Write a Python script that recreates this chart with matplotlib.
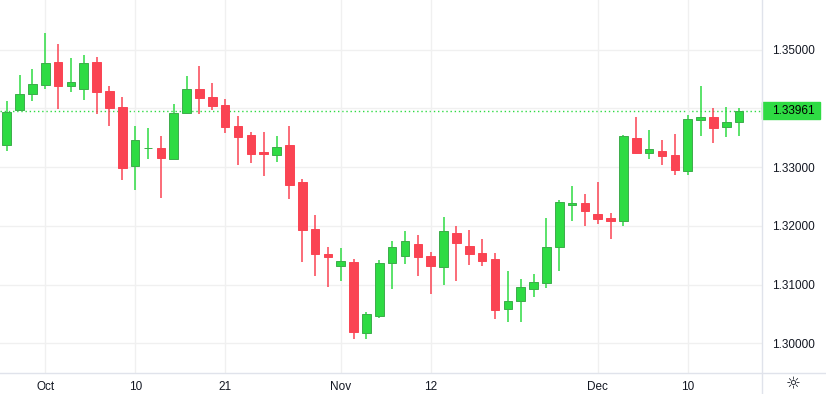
import matplotlib
matplotlib.use("Agg")
import matplotlib.pyplot as plt
from matplotlib.patches import FancyBboxPatch
from matplotlib.lines import Line2D
import numpy as np
import pandas as pd

# daily candles, forex (weekdays only)
dates = pd.bdate_range("2025-09-26", "2025-12-16")

opens = [1.33381, 1.33976, 1.34248, 1.34401, 1.34787, 1.34384, 1.34333, 1.34787, 1.34294, 1.34022,
         1.33024, 1.33318, 1.33325, 1.33143, 1.33915, 1.34328, 1.34192, 1.34056, 1.33699, 1.33546,
         1.33257, 1.33201, 1.33376, 1.32747, 1.31947, 1.31522, 1.31323, 1.31386, 1.30173, 1.30473,
         1.31364, 1.31493, 1.31692, 1.31488, 1.31296, 1.31879, 1.31658, 1.31539, 1.31437, 1.30582,
         1.30718, 1.30922, 1.31024, 1.31646, 1.32360, 1.32384, 1.32202, 1.32134, 1.32088, 1.33495,
         1.33245, 1.33274, 1.33206, 1.32939, 1.33806, 1.33852, 1.33687, 1.33772]
highs = [1.34129, 1.34566, 1.34668, 1.35281, 1.35094, 1.34861, 1.34912, 1.34878, 1.34384, 1.34192,
         1.33699, 1.33665, 1.33529, 1.34073, 1.34549, 1.34719, 1.34430, 1.34158, 1.33869, 1.33597,
         1.33597, 1.33529, 1.33699, 1.32793, 1.32185, 1.31641, 1.31629, 1.31437, 1.30536, 1.31420,
         1.31743, 1.31913, 1.31845, 1.31556, 1.32151, 1.31998, 1.31930, 1.31777, 1.31539, 1.31238,
         1.31097, 1.31182, 1.32134, 1.32440, 1.32679, 1.32543, 1.32747, 1.32219, 1.33546, 1.33852,
         1.33631, 1.33461, 1.33563, 1.33886, 1.34379, 1.34005, 1.34022, 1.34005]
lows = [1.33279, 1.33970, 1.34129, 1.34328, 1.33993, 1.34282, 1.34141, 1.33908, 1.33704, 1.32786,
        1.32616, 1.33143, 1.32480, 1.33140, 1.33910, 1.33898, 1.33971, 1.33585, 1.33041, 1.33075,
        1.32854, 1.33092, 1.32463, 1.31391, 1.31153, 1.30966, 1.31068, 1.30082, 1.30082, 1.30439,
        1.30932, 1.31357, 1.31153, 1.30847, 1.31000, 1.31068, 1.31340, 1.31323, 1.30422, 1.30371,
        1.30371, 1.30796, 1.30949, 1.31238, 1.32088, 1.31998, 1.32037, 1.31782, 1.32003, 1.33223,
        1.33138, 1.33036, 1.32871, 1.32871, 1.33534, 1.33415, 1.33517, 1.33534]
closes = [1.33937, 1.34243, 1.34413, 1.34770, 1.34384, 1.34447, 1.34770, 1.34282, 1.34010, 1.32990,
          1.33456, 1.33322, 1.33160, 1.33915, 1.34323, 1.34180, 1.34044, 1.33687, 1.33517, 1.33228,
          1.33228, 1.33337, 1.32701, 1.31935, 1.31527, 1.31476, 1.31403, 1.30201, 1.30497, 1.31364,
          1.31636, 1.31738, 1.31476, 1.31323, 1.31908, 1.31714, 1.31527, 1.31408, 1.30575, 1.30718,
          1.30956, 1.31041, 1.31636, 1.32401, 1.32389, 1.32259, 1.32122, 1.32088, 1.33529, 1.33245,
          1.33308, 1.33194, 1.32956, 1.33818, 1.33852, 1.33670, 1.33767, 1.33961]

tick_dates = ["2025-10-01", "2025-10-10", "2025-10-21", "2025-11-03", "2025-11-12", "2025-12-01", "2025-12-10"]
tick_labels = ["Oct", "10", "21", "Nov", "12", "Dec", "10"]
price_ticks = [1.30, 1.31, 1.32, 1.33, 1.34, 1.35]

up_col = "#2edb43"
down_col = "#fa4453"
up_edge = "#3dad4b"
grid_col = "#f0f0f0"
line_col = "#e0e3eb"
text_col = "#131722"

o = np.array(opens)
h = np.array(highs)
l = np.array(lows)
c = np.array(closes)
x = np.arange(len(dates))
up = c >= o
cols = np.where(up, up_col, down_col)
edges = np.where(up, up_edge, down_col)

fig = plt.figure(figsize=(8.26, 3.94), dpi=100)
ax = fig.add_axes([0, 1 - 373 / 394, 762 / 826, 373 / 394])

ax.vlines(x, l, h, colors=cols, linewidth=1.1, zorder=2)
body = np.maximum(np.abs(c - o), 0.00012)
ax.bar(x, body, bottom=np.minimum(o, c), width=0.67, color=cols, edgecolor=edges,
       linewidth=0.7, zorder=3)

# last price dotted line
ax.axhline(c[-1], color=up_col, linestyle=(0, (1, 2)), linewidth=1, zorder=1)

ax.set_xlim(-0.52, 58.78)
ax.set_ylim(1.29498, 1.35842)

tick_pos = [dates.get_loc(pd.Timestamp(d)) for d in tick_dates]
ax.set_xticks(tick_pos)
ax.set_xticklabels(tick_labels)
ax.set_yticks(price_ticks)
ax.set_yticklabels(["%.5f" % p for p in price_ticks])
ax.yaxis.tick_right()
ax.grid(True, color=grid_col, linewidth=1, zorder=0)
ax.tick_params(axis="both", length=0, labelsize=8.5, labelcolor=text_col)
ax.tick_params(axis="y", pad=7.5)
ax.tick_params(axis="x", pad=5.5)
for lab in ax.get_xticklabels() + ax.get_yticklabels():
    lab.set_fontfamily("Liberation Sans")
for s in ax.spines.values():
    s.set_visible(False)

# price scale / time scale separators
fig.add_artist(Line2D([0, 1], [1 - 373 / 394] * 2, color=line_col, linewidth=1, transform=fig.transFigure))
fig.add_artist(Line2D([762 / 826] * 2, [0, 1], color=line_col, linewidth=1, transform=fig.transFigure))

# last price label
per_px = (1.35842 - 1.29498) / 373
ax.add_patch(FancyBboxPatch((1.0, c[-1] - 8.6 * per_px), 58 / 762, 17.3 * per_px,
                            boxstyle="square,pad=0", transform=ax.get_yaxis_transform(),
                            color=up_col, clip_on=False, zorder=5))
ax.text(1.0 + 10 / 762, c[-1], "%.5f" % c[-1], transform=ax.get_yaxis_transform(),
        va="center", ha="left", fontsize=8.5, color="#000000", family="Liberation Sans", zorder=6)

fig.text(793 / 826, 1 - 384 / 394, "\u263c", ha="center", va="center", fontsize=12, color=text_col)

fig.savefig("out.png", dpi=100)
